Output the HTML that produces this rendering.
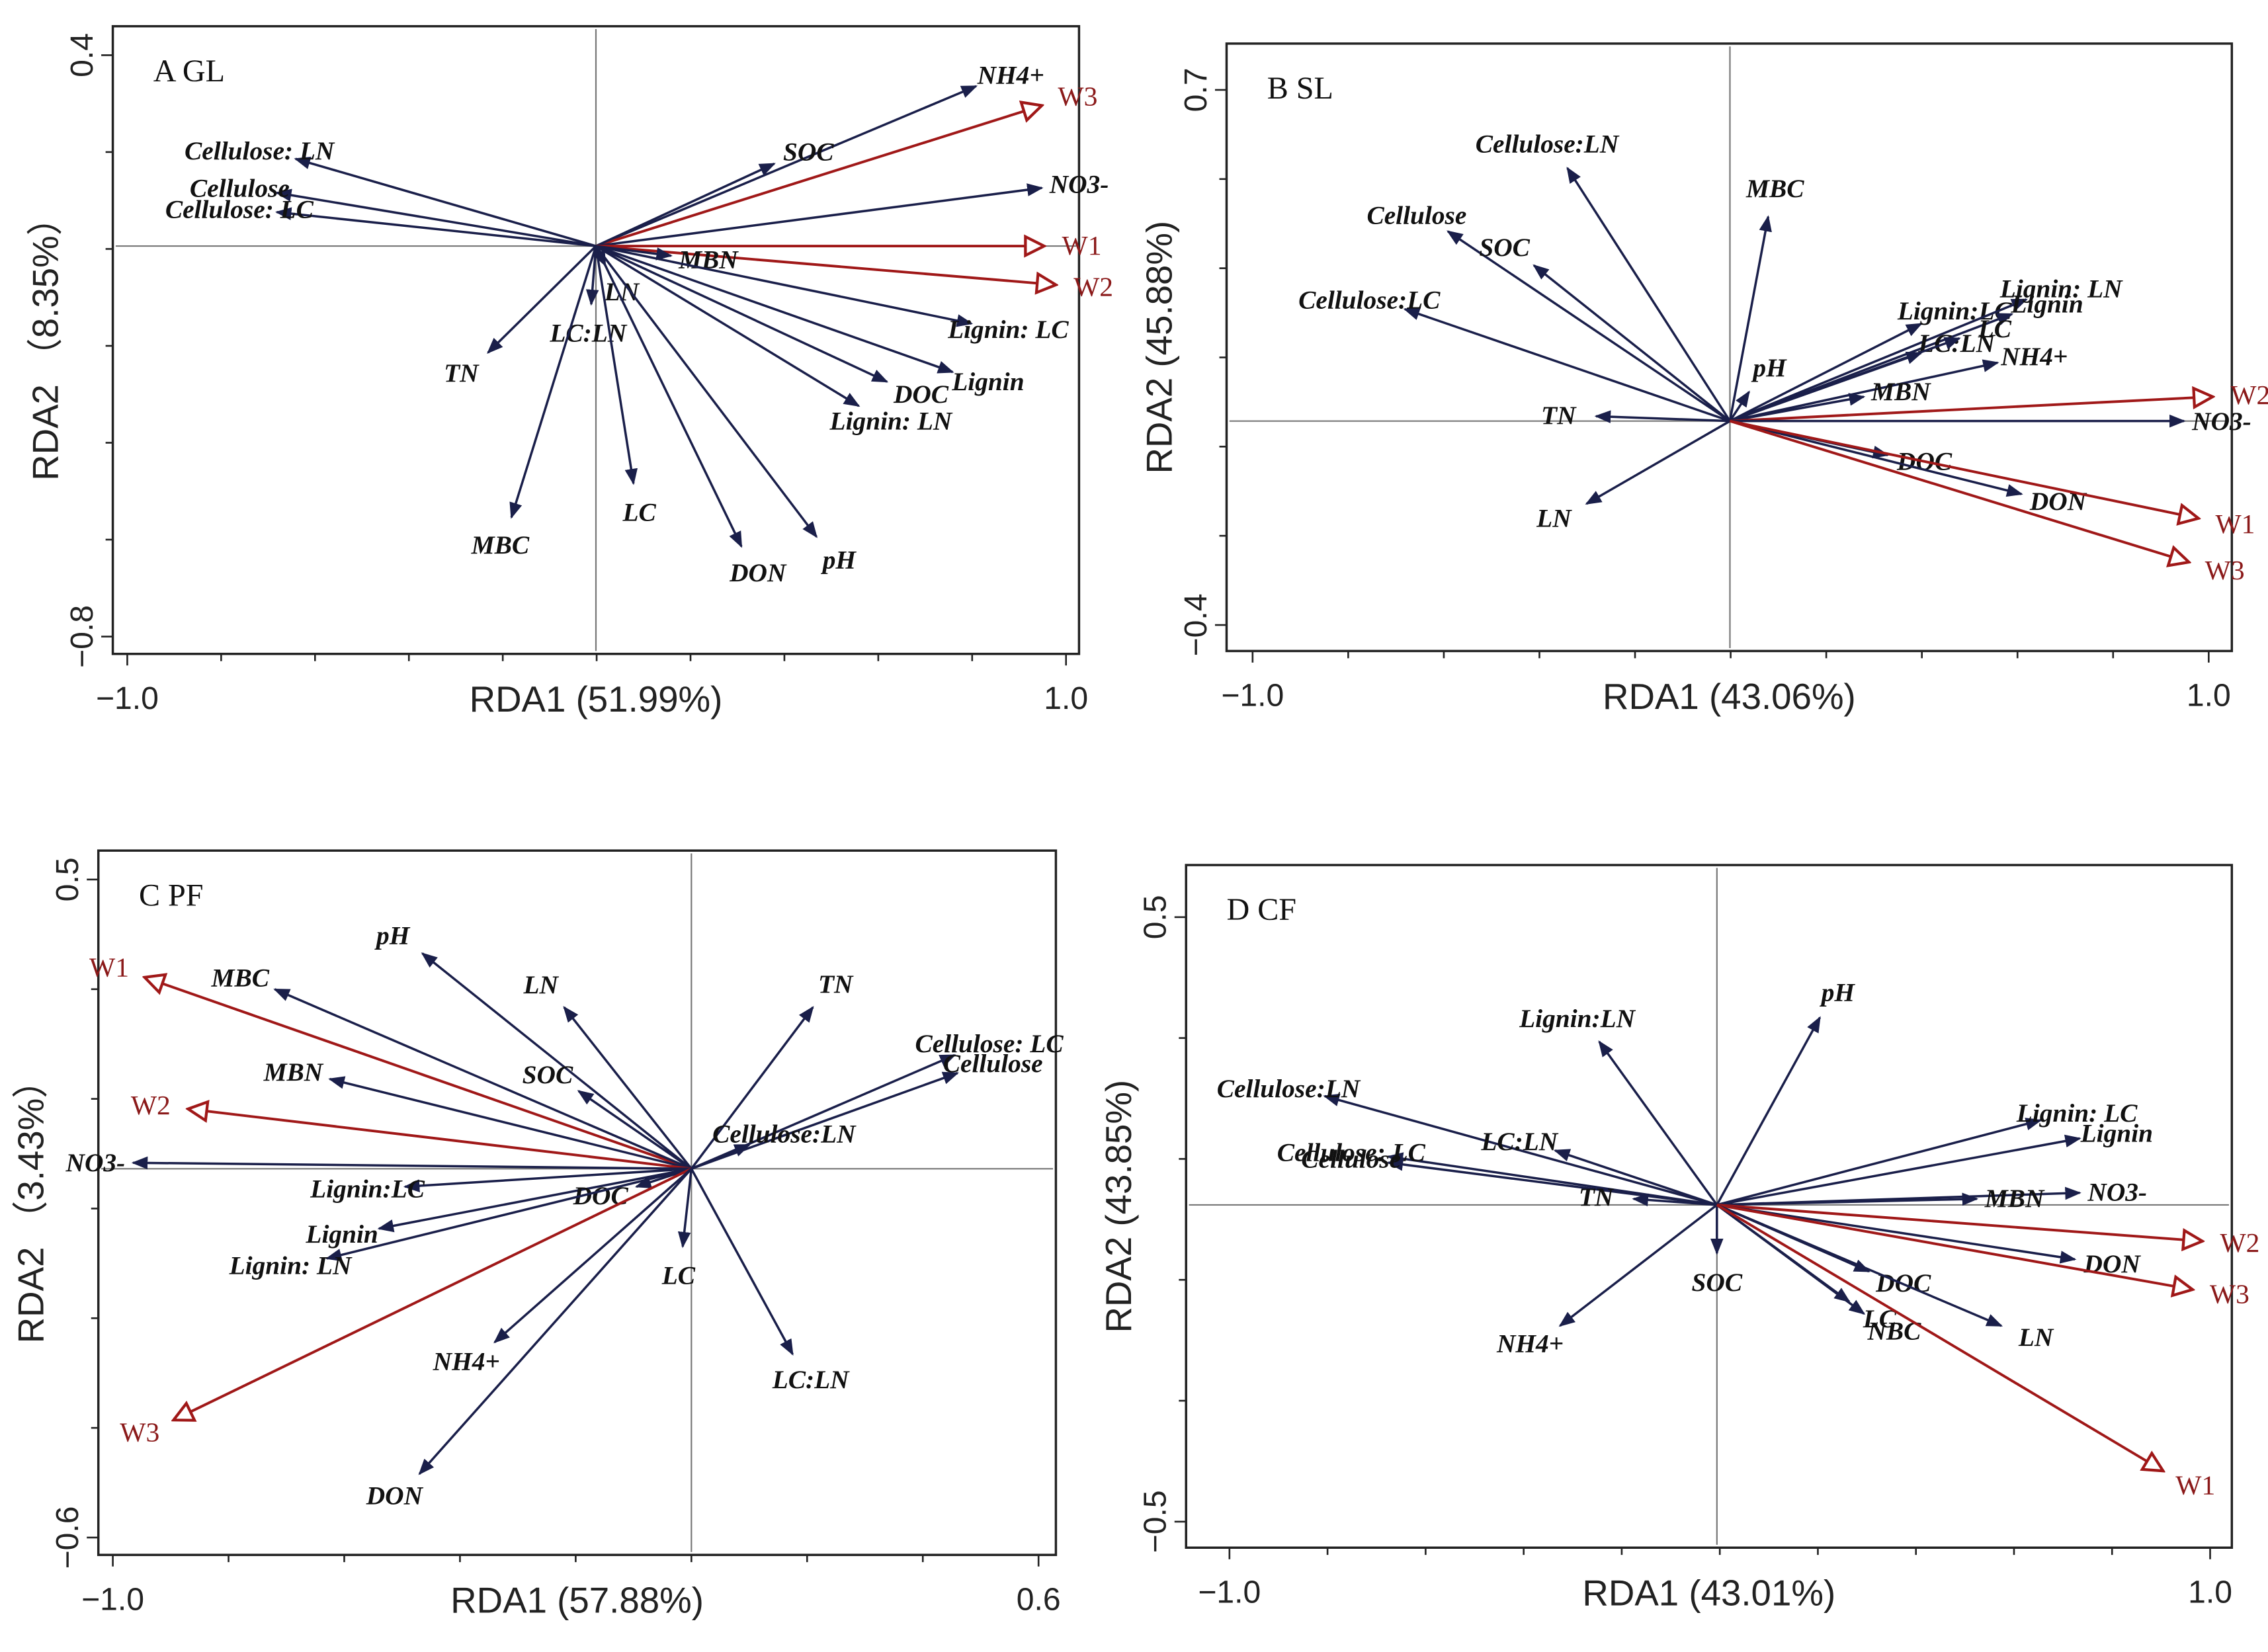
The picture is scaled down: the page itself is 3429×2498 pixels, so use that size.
<!DOCTYPE html>
<html><head><meta charset="utf-8">
<style>
html,body{margin:0;padding:0;background:#fff;}
svg{display:block;}
text{font-family:"Liberation Serif",serif;}
.var{font-style:italic;font-weight:bold;font-size:18px;fill:#111;}
.wl{font-size:19px;fill:#8b1a1a;}
.tick{font-family:"Liberation Sans",sans-serif;font-size:22px;fill:#222;}
.axt{font-family:"Liberation Sans",sans-serif;font-size:25px;fill:#222;}
.ttl{font-size:22px;fill:#111;}
</style></head>
<body>
<svg id="fig" width="3429" height="2498" viewBox="0 0 1568 1142" xmlns="http://www.w3.org/2000/svg">
<defs>
<marker id="hn" viewBox="0 0 10 10" refX="9" refY="5" markerWidth="7" markerHeight="7" orient="auto"><path d="M0,1 L10,5 L0,9 z" fill="#1a1f4a"/></marker>
<marker id="hr" viewBox="0 0 10 10" refX="9" refY="5" markerWidth="9" markerHeight="9" orient="auto"><path d="M1,1 L9,5 L1,9 z" fill="#fff" stroke="#a01818" stroke-width="1.2"/></marker>
</defs>
</svg>
<script>
// Panel A: GL
const labelsA=["NH4+","W3","SOC","NO3-","W1","W2","Cellulose: LN","Cellulose","Cellulose: LC","MBN","LN","LC:LN","Lignin: LC","Lignin","Lignin: LN","DOC","TN","MBC","LC","DON","pH"];
const xA=[0.81,0.95,0.38,0.95,0.955,0.98,-0.64,-0.68,-0.68,0.16,0.02,-0.01,0.8,0.76,0.56,0.62,-0.23,-0.18,0.08,0.31,0.47];
const yA=[0.33,0.29,0.17,0.12,0.0,-0.08,0.18,0.11,0.07,-0.02,-0.04,-0.12,-0.16,-0.26,-0.33,-0.28,-0.22,-0.56,-0.49,-0.62,-0.6];
// Panel B: SL
const labelsB=["Cellulose:LN","MBC","Cellulose","SOC","Cellulose:LC","TN","LN","pH","Lignin:LC","Lignin: LN","Lignin","LC:LN","LC","NH4+","MBN","W2","NO3-","DOC","DON","W1","W3"];
const xB=[-0.34,0.08,-0.59,-0.41,-0.68,-0.28,-0.3,0.04,0.4,0.62,0.59,0.4,0.48,0.56,0.28,1.01,0.95,0.33,0.61,0.98,0.96];
const yB=[0.52,0.42,0.39,0.32,0.23,0.01,-0.17,0.06,0.2,0.25,0.22,0.14,0.17,0.12,0.05,0.05,0.0,-0.07,-0.15,-0.2,-0.29];
// Panel C: PF
const labelsC=["W1","MBC","pH","LN","TN","Cellulose: LC","Cellulose","SOC","Cellulose:LN","MBN","W2","NO3-","Lignin:LC","Lignin","DOC","Lignin: LN","LC","W3","NH4+","DON","LC:LN"];
const xC=[-0.945,-0.72,-0.465,-0.22,0.21,0.455,0.46,-0.195,0.1,-0.625,-0.87,-0.965,-0.495,-0.54,-0.095,-0.63,-0.015,-0.895,-0.34,-0.47,0.175];
const yC=[0.32,0.3,0.36,0.27,0.27,0.19,0.16,0.13,0.04,0.15,0.1,0.01,-0.03,-0.1,-0.03,-0.15,-0.13,-0.42,-0.29,-0.51,-0.31];
// Panel D: CF
const labelsD=["Lignin:LN","pH","Cellulose:LN","LC:LN","Cellulose: LC","Cellulose","TN","SOC","NH4+","Lignin: LC","Lignin","NO3-","MBN","W2","DON","W3","DOC","LN","LC","NBC","W1"];
const xD=[-0.24,0.21,-0.8,-0.33,-0.67,-0.67,-0.17,0.0,-0.32,0.66,0.74,0.74,0.53,0.99,0.73,0.97,0.31,0.58,0.27,0.3,0.91];
const yD=[0.27,0.31,0.18,0.09,0.08,0.07,0.01,-0.08,-0.2,0.14,0.11,0.02,0.01,-0.06,-0.09,-0.14,-0.11,-0.2,-0.16,-0.18,-0.44];

const NS="http://www.w3.org/2000/svg";
const svg=document.getElementById('fig');
function mk(tag,attrs,parent){const e=document.createElementNS(NS,tag);for(const k in attrs)e.setAttribute(k,attrs[k]);(parent||svg).appendChild(e);return e;}

const panels=[
 {id:"a",title:"A  GL",labels:labelsA,xs:xA,ys:yA,box:[78,18,746,452],x0:-1.0,x1:1.0,px0:88,px1:737,ymax:0.4,ymin:-0.8,py0:38,py1:440,ox:412,oy:170,xt:"RDA1 (51.99%)",yt:"RDA2 （8.35%）",xl:"−1.0",xr:"1.0",yl:"0.4",yb:"−0.8"},
 {id:"b",title:"B  SL",labels:labelsB,xs:xB,ys:yB,box:[848,30,1543,450],x0:-1.0,x1:1.0,px0:866,px1:1527,ymax:0.7,ymin:-0.4,py0:62,py1:432,ox:1196,oy:291,xt:"RDA1  (43.06%)",yt:"RDA2  (45.88%)",xl:"−1.0",xr:"1.0",yl:"0.7",yb:"−0.4"},
 {id:"c",title:"C  PF",labels:labelsC,xs:xC,ys:yC,box:[68,588,730,1075],x0:-1.0,x1:0.6,px0:78,px1:718,ymax:0.5,ymin:-0.6,py0:608,py1:1063,ox:478,oy:808,xt:"RDA1  (57.88%)",yt:"RDA2  （3.43%）",xl:"−1.0",xr:"0.6",yl:"0.5",yb:"−0.6"},
 {id:"d",title:"D  CF",labels:labelsD,xs:xD,ys:yD,box:[820,598,1543,1070],x0:-1.0,x1:1.0,px0:850,px1:1528,ymax:0.5,ymin:-0.5,py0:634,py1:1052,ox:1187,oy:833,xt:"RDA1 (43.01%)",yt:"RDA2  (43.85%)",xl:"−1.0",xr:"1.0",yl:"0.5",yb:"−0.5"}
];

panels.forEach(p=>{
 const g=mk('g',{});
 
 
 const sx=(p.px1-p.px0)/(p.x1-p.x0), sy=(p.py1-p.py0)/(p.ymax-p.ymin);
 const X=v=>p.ox+v*sx, Y=v=>p.oy-v*sy;
 const [bx0,by0,bx1,by1]=p.box;
 const r=mk('rect',{x:bx0,y:by0,width:bx1-bx0,height:by1-by0,fill:'none',stroke:'#222','stroke-width':1.6},g);
 
 const hl=mk('line',{x1:bx0+2,x2:bx1-2,y1:p.oy,y2:p.oy,stroke:'#777','stroke-width':1},g);
 
 const vl=mk('line',{x1:p.ox,x2:p.ox,y1:by0+2,y2:by1-2,stroke:'#777','stroke-width':1},g);
 
 // x ticks
 const nx=Math.round((p.x1-p.x0)/0.2);
 for(let i=0;i<=nx;i++){const xx=p.px0+i*(p.px1-p.px0)/nx;
  mk('line',{x1:xx,x2:xx,y1:by1,y2:by1+(i==0||i==nx?8:5),stroke:'#222','stroke-width':1.2},g);}
 const ny=Math.round((p.ymax-p.ymin)/0.2);
 for(let i=0;i<=ny;i++){const yy=p.py0+i*(p.py1-p.py0)/ny;
  mk('line',{x1:bx0,x2:bx0-(i==0||i==ny?8:5),y1:yy,y2:yy,stroke:'#222','stroke-width':1.2},g);}
 let t;
 t=mk('text',{x:p.px0,y:by1+38,'text-anchor':'middle',class:'tick'},g);t.textContent=p.xl;
 t=mk('text',{x:p.px1,y:by1+38,'text-anchor':'middle',class:'tick'},g);t.textContent=p.xr;
 t=mk('text',{x:bx0-14,y:p.py0,'text-anchor':'middle',class:'tick',transform:`rotate(-90 ${bx0-14} ${p.py0})`},g);t.textContent=p.yl;
 t=mk('text',{x:bx0-14,y:p.py1,'text-anchor':'middle',class:'tick',transform:`rotate(-90 ${bx0-14} ${p.py1})`},g);t.textContent=p.yb;
 t=mk('text',{x:(bx0+bx1)/2,y:by1+40,'text-anchor':'middle',class:'axt'},g);t.textContent=p.xt;
 const ya=bx0-38, ym=(by0+by1)/2;
 t=mk('text',{x:ya,y:ym,'text-anchor':'middle',class:'axt',transform:`rotate(-90 ${ya} ${ym})`},g);t.textContent=p.yt;
 t=mk('text',{x:bx0+28,y:by0+38,class:'ttl'},g);t.textContent=p.title;
 p.labels.forEach((lab,i)=>{
  const red=/^W\d$/.test(lab);
  const ex=X(p.xs[i]), ey=Y(p.ys[i]);
  const ln=mk('line',{x1:p.ox,y1:p.oy,x2:ex,y2:ey,stroke:red?'#a01818':'#1a1f4a','stroke-width':red?1.8:1.6,'marker-end':red?'url(#hr)':'url(#hn)'},g);
  
  
  const dx=ex-p.ox, dy=ey-p.oy, L=Math.hypot(dx,dy)||1;
  const lx=ex+dx/L*26, ly=ey+dy/L*20+6;
  const tx=mk('text',{x:lx,y:ly,'text-anchor':'middle',class:red?'wl':'var'},g);
  tx.textContent=lab;
  
  
 });
});
</script>
</body></html>
